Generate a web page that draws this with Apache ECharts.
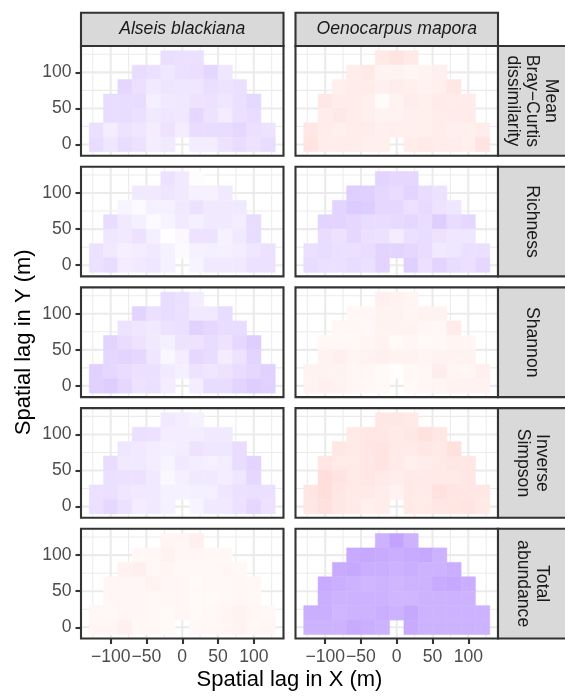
<!DOCTYPE html>
<html><head><meta charset="utf-8">
<script src="https://cdn.jsdelivr.net/npm/echarts@6/dist/echarts.min.js"></script>
<style>html,body{margin:0;padding:0;background:#fff}#c{width:565px;height:696px}</style>
</head><body><div id="c"></div><script>
// ---- data ----
const species = ['Alseis blackiana', 'Oenocarpus mapora'];
const metrics = ['Mean\nBray\u2212Curtis\ndissimilarity', 'Richness', 'Shannon', 'Inverse\nSimpson', 'Total\nabundance'];
const rowY = [120, 100, 80, 60, 40, 20, 0];
const rowX = [
  [-20, 0, 20],
  [-60, -40, -20, 0, 20, 40, 60],
  [-80, -60, -40, -20, 0, 20, 40, 60, 80],
  [-100, -80, -60, -40, -20, 0, 20, 40, 60, 80, 100],
  [-100, -80, -60, -40, -20, 0, 20, 40, 60, 80, 100],
  [-120, -100, -80, -60, -40, -20, 0, 20, 40, 60, 80, 100, 120],
  [-120, -100, -80, -60, -40, -20, 20, 40, 60, 80, 100, 120]
];
const tileSize = 20;
const xTicks = [-100, -50, 0, 50, 100];
const yTicks = [0, 50, 100];
const xMinor = [-125, -75, -25, 25, 75, 125];
const yMinor = [25, 75, 125];

// values: positive = purple side, negative = red side (scale -100..100)
const alseisBray = [
  [21, 20, 20],
  [23, 20, 16, 20, 21, 27, 16],
  [27, 20, 14, 17, 16, 16, 21, 18, 20],
  [23, 22, 22, 10, 14, 15, 18, 19, 16, 20, 25],
  [22, 23, 20, 14, 16, 15, 26, 18, 12, 20, 22],
  [20, 12, 18, 16, 12, 18, 12, 22, 22, 23, 26, 20, 18],
  [22, 16, 22, 19, 12, 14, 12, 12, 18, 22, 18, 22]
];
const oenoBray = [
  [-14, -18, -14],
  [-12, -15, -8, -8, -6, -8, -11],
  [-11, -12, -12, -10, -12, -11, -9, -11, -16],
  [-16, -12, -12, -11, -3, -8, -12, -11, -13, -12, -13],
  [-12, -15, -12, -11, -8, -9, -11, -11, -12, -13, -13],
  [-16, -12, -11, -12, -12, -10, -11, -10, -11, -12, -10, -11, -12],
  [-18, -12, -12, -12, -11, -11, -12, -14, -12, -12, -11, -18]
];
const alseisRich = [
  [19, 14, 2],
  [14, 14, 17, 14, 9, 9, 14],
  [7, 3, 10, 10, 14, 19, 14, 14, 14],
  [22, 14, 10, 3, 7, 13, 10, 14, 14, 12, 22],
  [16, 14, 19, 10, 0, 5, 18, 18, 9, 14, 22],
  [19, 14, 10, 12, 14, 9, 3, 9, 10, 10, 12, 16, 19],
  [19, 22, 12, 14, 16, 9, 7, 14, 14, 14, 19, 19]
];
const oenoRich = [
  [28, 26, 26],
  [32, 31, 26, 23, 28, 22, 19],
  [28, 34, 33, 26, 26, 20, 24, 18, 16],
  [28, 28, 26, 23, 22, 24, 26, 23, 33, 23, 26],
  [23, 19, 26, 20, 19, 12, 20, 22, 18, 16, 16],
  [20, 23, 20, 20, 23, 28, 28, 26, 23, 14, 16, 20, 20],
  [23, 20, 20, 23, 20, 28, 31, 20, 28, 23, 20, 26]
];
const alseisShan = [
  [23, 20, 12],
  [28, 20, 23, 20, 14, 14, 23],
  [18, 16, 14, 18, 20, 30, 26, 23, 22],
  [28, 22, 18, 14, 10, 18, 18, 23, 18, 26, 33],
  [26, 28, 26, 16, 5, 12, 26, 23, 12, 18, 28],
  [30, 26, 23, 20, 20, 14, 10, 18, 16, 18, 23, 26, 30],
  [30, 33, 26, 18, 20, 12, 12, 23, 23, 28, 33, 30]
];
const oenoShan = [
  [-10, -9, -7],
  [-5, -6, -8, -8, -6, -8, -8],
  [-6, -6, -5, -9, -8, -8, -6, -5, -13],
  [-5, -5, -5, -6, -9, -4, -6, -4, -5, -6, -6],
  [-9, -10, -7, -9, -10, -8, -8, -7, -8, -9, -8],
  [-8, -8, -8, -6, -6, -4, -1, -5, -6, -12, -7, -6, -10],
  [-8, -10, -8, -6, -5, -4, -4, -6, -7, -8, -9, -9]
];
const alseisInvS = [
  [14, 12, 9],
  [20, 19, 12, 12, 12, 14, 14],
  [16, 14, 12, 10, 12, 18, 16, 16, 22],
  [23, 14, 14, 12, 7, 14, 12, 10, 12, 22, 28],
  [20, 19, 19, 14, 5, 10, 14, 14, 12, 16, 26],
  [20, 20, 16, 14, 14, 9, 9, 10, 10, 16, 19, 20, 20],
  [20, 26, 19, 12, 14, 9, 7, 14, 14, 19, 26, 19]
];
const oenoInvS = [
  [-16, -16, -14],
  [-14, -16, -16, -14, -16, -20, -16],
  [-16, -14, -16, -18, -14, -14, -16, -14, -20],
  [-17, -14, -14, -16, -18, -14, -11, -12, -14, -16, -16],
  [-22, -18, -14, -16, -14, -12, -14, -14, -14, -14, -16],
  [-17, -22, -16, -14, -14, -12, -9, -14, -14, -20, -17, -16, -16],
  [-16, -20, -16, -14, -11, -12, -14, -14, -16, -17, -18, -14]
];
const alseisAbund = [
  [-6, -6, -10],
  [-5, -5, -8, -6, -6, -5, -5],
  [-9, -10, -5, -6, -5, -5, -5, -6, -5],
  [-6, -6, -6, -9, -6, -6, -4, -5, -5, -6, -5],
  [-6, -6, -6, -5, -6, -6, -4, -4, -5, -6, -5],
  [-6, -5, -6, -6, -5, -4, -6, -4, -5, -6, -9, -6, -5],
  [-6, -6, -10, -5, -5, -4, -5, -5, -6, -8, -5, -6]
];
const oenoAbund = [
  [50, 60, 50],
  [55, 57, 55, 53, 55, 57, 50],
  [55, 57, 53, 53, 50, 53, 50, 50, 53],
  [55, 53, 50, 48, 50, 48, 50, 50, 55, 57, 53],
  [53, 50, 50, 50, 50, 48, 48, 50, 50, 50, 50],
  [53, 53, 48, 50, 50, 53, 50, 57, 50, 50, 50, 50, 50],
  [50, 50, 50, 55, 53, 50, 55, 50, 50, 50, 50, 50]
];
const panels = [
  [alseisBray, oenoBray],
  [alseisRich, oenoRich],
  [alseisShan, oenoShan],
  [alseisInvS, oenoInvS],
  [alseisAbund, oenoAbund]
];

// ---- layout / style ----
const FONT = '"Liberation Sans", Arial, sans-serif';
const colLeft = [81, 295.5], panelW = 202.5;
const rowTop0 = 46, rowPitch = 120.7, panelH = 109.7;
const xLim = [-141.5, 141.5], yLim = [-15.5, 136.5];
const LW = 2.1;
const fmt = v => String(v).replace('-', '\u2212');

const grids = [], xAxes = [], yAxes = [], series = [], graphics = [], tileSeriesIdx = [];
for (let r = 0; r < 5; r++) {
  for (let c = 0; c < 2; c++) {
    const i = r * 2 + c;
    const top = rowTop0 + r * rowPitch;
    grids.push({left: colLeft[c], top: top, width: panelW, height: panelH, show: true,
      backgroundColor: 'rgba(0,0,0,0)', borderColor: '#333333', borderWidth: LW, z: 10});
    xAxes.push({gridIndex: i, type: 'value', min: xLim[0], max: xLim[1], position: 'bottom',
      axisLine: {show: false, onZero: false}, splitLine: {show: false},
      axisTick: {show: r === 4, customValues: xTicks, length: 5.5, lineStyle: {color: '#333333', width: LW}},
      axisLabel: {show: r === 4, customValues: xTicks, margin: 9.5, fontSize: 17.6, color: '#4D4D4D', fontFamily: FONT, formatter: fmt}});
    yAxes.push({gridIndex: i, type: 'value', min: yLim[0], max: yLim[1], position: 'left',
      axisLine: {show: false, onZero: false}, splitLine: {show: false},
      axisTick: {show: c === 0, customValues: yTicks, length: 5.5, lineStyle: {color: '#333333', width: LW}},
      axisLabel: {show: c === 0, customValues: yTicks, margin: 9.5, fontSize: 17.6, color: '#4D4D4D', fontFamily: FONT, formatter: fmt}});
    // grid lines
    series.push({type: 'custom', xAxisIndex: i, yAxisIndex: i, z: 1, silent: true, data: [[0, 0]],
      renderItem: (p, api) => {
        const ch = [];
        const add = (v, isX, major) => {
          const a = isX ? api.coord([v, yLim[0]]) : api.coord([xLim[0], v]);
          const b = isX ? api.coord([v, yLim[1]]) : api.coord([xLim[1], v]);
          ch.push({type: 'line', shape: {x1: a[0], y1: a[1], x2: b[0], y2: b[1]},
            style: {stroke: '#EBEBEB', lineWidth: major ? LW : LW / 2}});
        };
        xMinor.forEach(v => add(v, true, false));
        yMinor.forEach(v => add(v, false, false));
        xTicks.forEach(v => add(v, true, true));
        yTicks.forEach(v => add(v, false, true));
        return {type: 'group', children: ch};
      }});
    // tiles
    const vals = panels[r][c];
    const data = [];
    rowY.forEach((y, k) => rowX[k].forEach((x, j) => data.push([x, y, vals[k][j]])));
    tileSeriesIdx.push(series.length);
    series.push({type: 'custom', xAxisIndex: i, yAxisIndex: i, z: 2, silent: true,
      dimensions: ['x', 'y', 'v'], encode: {x: 0, y: 1}, data: data,
      renderItem: (p, api) => {
        const x = api.value(0), y = api.value(1);
        const p0 = api.coord([x - tileSize / 2, y + tileSize / 2]);
        const p1 = api.coord([x + tileSize / 2, y - tileSize / 2]);
        const col = api.visual('color');
        return {type: 'rect', shape: {x: p0[0], y: p0[1], width: p1[0] - p0[0], height: p1[1] - p0[1]},
          style: {fill: col, stroke: col, lineWidth: 0.5}};
      }});
    // right strip
    if (c === 1) {
      graphics.push({type: 'rect', z: 20, shape: {x: colLeft[1] + panelW, y: top, width: 72, height: panelH},
        style: {fill: '#D9D9D9', stroke: '#333333', lineWidth: LW}});
      graphics.push({type: 'text', z: 21, x: 532, y: top + panelH / 2, rotation: -Math.PI / 2,
        style: {text: metrics[r], font: '17.6px ' + FONT, fill: '#1A1A1A', align: 'center', verticalAlign: 'middle', lineHeight: 19}});
    }
  }
}
// top strips
for (let c = 0; c < 2; c++) {
  graphics.push({type: 'rect', z: 20, shape: {x: colLeft[c], y: 12.7, width: panelW, height: rowTop0 - 12.7},
    style: {fill: '#D9D9D9', stroke: '#333333', lineWidth: LW}});
  graphics.push({type: 'text', z: 21, x: colLeft[c] + panelW / 2, y: (12.7 + rowTop0) / 2,
    style: {text: species[c], font: 'italic 17.6px ' + FONT, fill: '#1A1A1A', align: 'center', verticalAlign: 'middle'}});
}
// axis titles
graphics.push({type: 'text', z: 21, x: (colLeft[0] + colLeft[1] + panelW) / 2, y: 680,
  style: {text: 'Spatial lag in X (m)', font: '22px ' + FONT, fill: '#000000', align: 'center', verticalAlign: 'middle'}});
graphics.push({type: 'text', z: 21, x: 24, y: rowTop0 + (4 * rowPitch + panelH) / 2, rotation: Math.PI / 2,
  style: {text: 'Spatial lag in Y (m)', font: '22px ' + FONT, fill: '#000000', align: 'center', verticalAlign: 'middle'}});

const chart = echarts.init(document.getElementById('c'), null, {renderer: 'canvas'});
chart.setOption({
  animation: false,
  backgroundColor: '#ffffff',
  grid: grids, xAxis: xAxes, yAxis: yAxes,
  visualMap: {type: 'continuous', show: false, min: -100, max: 100, dimension: 2, seriesIndex: tileSeriesIdx,
    inRange: {color: ['#FF695A', '#FFFFFF', '#9B66FF']}},
  series: series,
  graphic: graphics
});
</script></body></html>
